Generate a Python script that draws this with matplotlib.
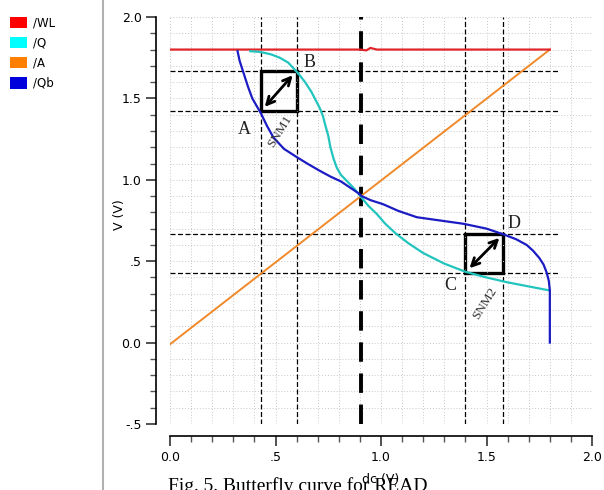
import matplotlib
matplotlib.use("Agg")
import matplotlib.pyplot as plt
from matplotlib.patches import Rectangle

# signals shown in the legend
names = ["/WL", "/Q", "/A", "/Qb"]
legend_colors = ["#ff0000", "#00ffff", "#ff8000", "#0000dd"]
line_colors = ["#e0262a", "#22c4be", "#f0892a", "#1c1cc4"]

wl_x = [0.0, 0.90, 0.93, 0.95, 0.98, 1.80]
wl_y = [1.80, 1.80, 1.795, 1.81, 1.80, 1.80]

a_x = [0.0, 1.80]
a_y = [-0.01, 1.80]

q_x = [0.38, 0.43, 0.48, 0.52, 0.56, 0.61, 0.64, 0.67, 0.69, 0.71, 0.725,
       0.735, 0.75, 0.76, 0.775, 0.79, 0.81, 0.84, 0.87, 0.89, 0.908,
       0.94, 0.98, 1.02, 1.07, 1.13, 1.20, 1.30, 1.40, 1.50, 1.60, 1.70, 1.80]
q_y = [1.79, 1.785, 1.77, 1.75, 1.72, 1.65, 1.60, 1.54, 1.49, 1.44, 1.39,
       1.34, 1.27, 1.20, 1.13, 1.075, 1.03, 0.99, 0.95, 0.92, 0.89,
       0.84, 0.79, 0.73, 0.67, 0.61, 0.55, 0.485, 0.435, 0.40, 0.37, 0.345, 0.32]

qb_x = [0.32, 0.33, 0.35, 0.37, 0.39, 0.43, 0.46, 0.49, 0.54, 0.60, 0.65,
        0.71, 0.76, 0.81, 0.85, 0.89, 0.908, 0.95, 1.01, 1.08, 1.17, 1.28,
        1.39, 1.50, 1.58, 1.64, 1.69, 1.72, 1.75, 1.77, 1.785, 1.795, 1.80, 1.80]
qb_y = [1.79, 1.73, 1.65, 1.57, 1.50, 1.41, 1.33, 1.26, 1.19, 1.14, 1.10,
        1.055, 1.02, 0.99, 0.955, 0.92, 0.90, 0.875, 0.85, 0.81, 0.77, 0.75,
        0.73, 0.70, 0.665, 0.635, 0.60, 0.565, 0.52, 0.48, 0.43, 0.38, 0.32, 0.0]

# noise margin squares: (x0, y0, x1, y1)
snm1 = [0.43, 1.42, 0.60, 1.67]
snm2 = [1.40, 0.43, 1.58, 0.67]
v_dash = [0.43, 0.60, 1.40, 1.58]
h_dash = [1.67, 1.42, 0.67, 0.43]
trip_x = 0.905

xticks = [0.0, 0.5, 1.0, 1.5, 2.0]
xtick_labels = ["0.0", ".5", "1.0", "1.5", "2.0"]
yticks = [-0.5, 0.0, 0.5, 1.0, 1.5, 2.0]
ytick_labels = ["-.5", "0.0", ".5", "1.0", "1.5", "2.0"]

fig = plt.figure(figsize=(6.04, 4.90), dpi=100)
ax = fig.add_axes([0.2815, 0.1347, 0.6987, 0.8306])
ax.set_xlim(0, 2.0)
ax.set_ylim(-0.5, 2.0)

ax.set_xticks(xticks)
ax.set_xticklabels(xtick_labels)
ax.set_yticks(yticks)
ax.set_yticklabels(ytick_labels)
ax.set_xticks([i / 10 for i in range(21)], minor=True)
ax.set_yticks([i / 10 - 0.5 for i in range(26)], minor=True)
ax.tick_params(axis="both", which="major", labelsize=9, length=7, width=1.2, color="#333333")
ax.tick_params(axis="both", which="minor", length=4, width=1, color="#555555")
ax.grid(True, which="both", color="#c8c8c8", linestyle=(0, (1, 2)), linewidth=0.7)
for s in ["top", "right"]:
    ax.spines[s].set_visible(False)
ax.spines["left"].set_position(("outward", 10))
ax.spines["bottom"].set_position(("outward", 9))
ax.spines["left"].set_linewidth(1.2)
ax.spines["bottom"].set_linewidth(1.2)

for v in v_dash:
    ax.axvline(v, color="black", linestyle=(0, (4, 2)), linewidth=0.9)
for h in h_dash:
    ax.plot([0.0, 1.85], [h, h], color="black", linestyle=(0, (4, 2)), linewidth=0.9)
ax.axvline(trip_x, color="black", linestyle=(0, (5, 3)), linewidth=2.8)

ax.plot(a_x, a_y, color=line_colors[2], linewidth=1.4)
ax.plot(wl_x, wl_y, color=line_colors[0], linewidth=1.6)
ax.plot(q_x, q_y, color=line_colors[1], linewidth=1.6)
ax.plot(qb_x, qb_y, color=line_colors[3], linewidth=1.6)

for b in [snm1, snm2]:
    ax.add_patch(Rectangle((b[0], b[1]), b[2] - b[0], b[3] - b[1],
                           fill=False, edgecolor="black", linewidth=2.4))
    ax.annotate("", xy=(b[2] - 0.01, b[3] - 0.015), xytext=(b[0] + 0.01, b[1] + 0.015),
                arrowprops=dict(arrowstyle="<->", color="black", lw=2, mutation_scale=14))

serif = dict(family="Liberation Serif", fontsize=13, color="#222222")
ax.text(0.35, 1.31, "A", ha="center", va="center", **serif)
ax.text(0.66, 1.72, "B", ha="center", va="center", **serif)
ax.text(1.33, 0.35, "C", ha="center", va="center", **serif)
ax.text(1.63, 0.73, "D", ha="center", va="center", **serif)
ax.text(0.52, 1.30, "SNM1", rotation=58, ha="center", va="center",
        family="Liberation Serif", fontsize=9.5, color="#333333")
ax.text(1.49, 0.24, "SNM2", rotation=58, ha="center", va="center",
        family="Liberation Serif", fontsize=9.5, color="#333333")

fig.text(120 / 604, 1 - 215 / 490, "V (V)", rotation=90, ha="center", va="center", fontsize=9)
fig.text(381 / 604, 1 - 479 / 490, "dc (V)", ha="center", va="center", fontsize=9)
fig.text(168 / 604, -1 / 490, "Fig. 5. Butterfly curve for READ", ha="left", va="baseline",
         family="Liberation Serif", fontsize=14)

# legend panel on the left
fig.add_artist(plt.Line2D([103 / 604, 103 / 604], [0, 1], color="#b0b0b0", linewidth=1.5))
for i, (n, c) in enumerate(zip(names, legend_colors)):
    yc = 23 + i * 20
    fig.add_artist(Rectangle((10 / 604, 1 - (yc + 5.5) / 490), 17 / 604, 11 / 490,
                             facecolor=c, edgecolor="none"))
    fig.text(33 / 604, 1 - yc / 490, n, ha="left", va="center", fontsize=8.5)

fig.savefig("out.png", dpi=100)
